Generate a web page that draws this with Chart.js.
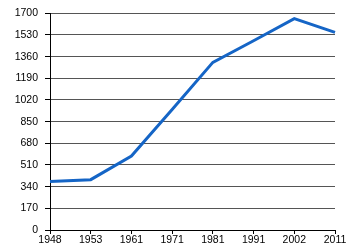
<!DOCTYPE html>
<html><head><meta charset="utf-8">
<script src="https://cdn.jsdelivr.net/npm/chart.js@4"></script>
<style>html,body{margin:0;padding:0;background:#fff}#w{width:350px;height:250px}</style>
</head><body><div id="w"><canvas id="c"></canvas></div>
<script>
const years = ['1948','1953','1961','1971','1981','1991','2002','2011'];
const population = [380, 395, 580, 945, 1315, 1485, 1658, 1550];
const yMin = 0, yMax = 1700, yStep = 170;

new Chart(document.getElementById('c'), {
  type: 'line',
  data: { labels: years, datasets: [{ data: population, borderColor: '#1565c6', borderWidth: 3, pointRadius: 0, tension: 0, fill: false }] },
  options: {
    responsive: true, maintainAspectRatio: false, animation: false,
    devicePixelRatio: 1,
    layout: { padding: { top: 10, right: 15, left: 0, bottom: 0 } },
    plugins: { legend: { display: false }, tooltip: { enabled: false } },
    scales: {
      x: {
        type: 'category', offset: false,
        grid: { drawOnChartArea: false, drawTicks: true, tickLength: 4, color: '#000' },
        border: { color: '#000', width: 1 },
        ticks: { color: '#000', font: { family: 'Liberation Sans', size: 10.5 }, padding: 0, maxRotation: 0, autoSkip: false },
        afterFit: s => { s.height = 20; }
      },
      y: {
        min: yMin, max: yMax,
        grid: { color: '#555', tickLength: 5, tickColor: '#000' },
        border: { color: '#000', width: 1 },
        ticks: { stepSize: yStep, color: '#000', font: { family: 'Liberation Sans', size: 10.5 }, padding: 7, callback: v => String(v) },
        afterFit: s => { s.width = 50; }
      }
    }
  }
});
</script></body></html>
